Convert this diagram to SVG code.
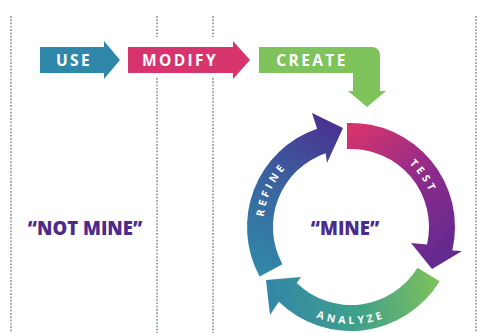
<svg xmlns="http://www.w3.org/2000/svg" width="477" height="333" viewBox="0 0 477 333">
<style>
.dot{fill:none;stroke:#9ea9b1;stroke-width:2;stroke-dasharray:1.7 1.6}
.lbl{font-family:"Open Sans","Liberation Sans",sans-serif;font-weight:700;fill:#fff;font-size:15.5px;letter-spacing:2.4px;text-anchor:middle}
.ring{font-family:"Open Sans","Liberation Sans",sans-serif;font-weight:700;fill:#fff;font-size:10.5px;letter-spacing:3.4px;text-anchor:middle}
.big{font-family:"Open Sans","Liberation Sans",sans-serif;font-weight:800;fill:#4b2b8c;font-size:18.5px;text-anchor:middle}
</style>
<defs>
<linearGradient id="gTest" gradientUnits="userSpaceOnUse" x1="347" y1="130" x2="445" y2="255">
<stop offset="0" stop-color="#d8346c"/>
<stop offset="0.55" stop-color="#8a2b8c"/>
<stop offset="1" stop-color="#63298e"/>
</linearGradient>
<linearGradient id="gAnalyze" gradientUnits="userSpaceOnUse" x1="440" y1="280" x2="268" y2="295">
<stop offset="0" stop-color="#80c25a"/>
<stop offset="0.5" stop-color="#3fa08a"/>
<stop offset="1" stop-color="#3386a8"/>
</linearGradient>
<linearGradient id="gRefine" gradientUnits="userSpaceOnUse" x1="262" y1="275" x2="342" y2="125">
<stop offset="0" stop-color="#3089a8"/>
<stop offset="0.5" stop-color="#3a64a0"/>
<stop offset="1" stop-color="#4a3090"/>
</linearGradient>
<path id="pTest" d="M365.9,142.3 A86,86 0 0 1 435.7,241.9"/>
<path id="pRefine" d="M274.8,271 A88,88 0 0 1 335.7,140.3"/>
<path id="pAnalyze" d="M267,275.5 A97,97 0 0 0 435,275.5"/>
</defs>
<rect width="477" height="333" fill="#fff"/>
<g id="guides">
<line class="dot" x1="11" y1="16" x2="11" y2="333"/>
<line class="dot" x1="157" y1="16" x2="157" y2="37"/>
<line class="dot" x1="157" y1="78" x2="157" y2="333"/>
<line class="dot" x1="213" y1="16" x2="213" y2="37"/>
<line class="dot" x1="213" y1="78" x2="213" y2="333"/>
<line class="dot" x1="476" y1="16" x2="476" y2="333"/>
</g>
<g id="use">
<path d="M40,47 H104 V41 L120,60 L104,79 V73 H40 Z" fill="#2f87a9"/>
<text class="lbl" x="74" y="66">USE</text>
</g>
<g id="modify">
<path d="M128,47 H233 V41 L250,60 L233,79 V73 H128 Z" fill="#d7336d"/>
<text class="lbl" x="180" y="66">MODIFY</text>
</g>
<g id="create">
<path d="M259,47 H372 A8,8 0 0 1 380,55 V91 H386 L367,107 L348,91 H353 V73 H259 Z" fill="#7ec35b"/>
<text class="lbl" x="312" y="66">CREATE</text>
</g>
<g id="test">
<path d="M347,123 A104,104 0 0 1 452.3,250.4 L462,251 L432,269 L411,243 L427,244.5 A78,78 0 0 0 347,149 Z" fill="url(#gTest)"/>
<text class="ring"><textPath href="#pTest" startOffset="50%">TEST</textPath></text>
</g>
<g id="analyze">
<path d="M439.7,281.3 A104,104 0 0 1 278.8,301.8 L270,315 L266,280 L301,277 L296.8,283.1 A78,78 0 0 0 417.5,267.8 Z" fill="url(#gAnalyze)"/>
<text class="ring"><textPath href="#pAnalyze" startOffset="50%">ANALYZE</textPath></text>
</g>
<g id="refine">
<path d="M259.6,276.6 A104,104 0 0 1 317.1,128.7 L312,113 L343,128 L327,163 L325.6,153.2 A78,78 0 0 0 282.4,264.2 Z" fill="url(#gRefine)"/>
<text class="ring"><textPath href="#pRefine" startOffset="50%">REFINE</textPath></text>
</g>
<g id="notmine">
<text class="big" x="85" y="235">“NOT MINE”</text>
</g>
<g id="mine">
<text class="big" x="345" y="235">“MINE”</text>
</g>
</svg>
